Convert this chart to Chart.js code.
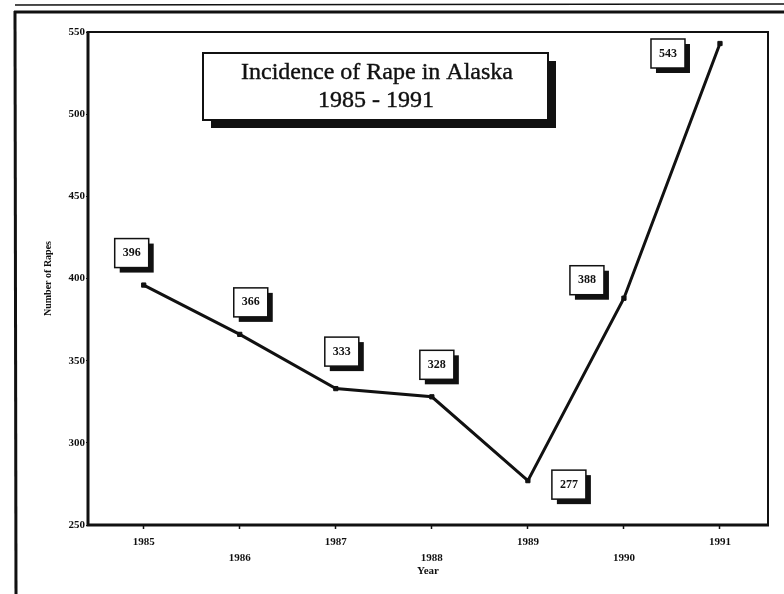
<!DOCTYPE html>
<html>
<head>
<meta charset="utf-8">
<script src="https://cdn.jsdelivr.net/npm/chart.js@4.4.1/dist/chart.umd.min.js"></script>
<style>
  html, body { margin: 0; padding: 0; background: #fff; }
  #wrap { width: 784px; height: 594px; }
</style>
</head>
<body>
<div id="wrap"><canvas id="rapes-chart"></canvas></div>
<script>
var years = [1985, 1986, 1987, 1988, 1989, 1990, 1991];
var rapes = [396, 366, 333, 328, 277, 388, 543];
var yTicks = [250, 300, 350, 400, 450, 500, 550];
var titleLines = ["Incidence of Rape in Alaska", "1985 - 1991"];

var serif = "'Liberation Serif', 'DejaVu Serif', serif";

// page frame, plot box and the title box
var framePlugin = {
  id: "frame",
  beforeDraw: function (chart) {
    var ctx = chart.ctx;
    ctx.save();
    ctx.fillStyle = "#fff";
    ctx.fillRect(0, 0, chart.width, chart.height);
    ctx.strokeStyle = "#111";
    ctx.lineWidth = 1.5;
    ctx.beginPath(); ctx.moveTo(15, 5); ctx.lineTo(784, 4); ctx.stroke();
    ctx.lineWidth = 3;
    ctx.beginPath(); ctx.moveTo(14, 12); ctx.lineTo(784, 12); ctx.stroke();
    ctx.beginPath(); ctx.moveTo(15, 11); ctx.lineTo(16, 594); ctx.stroke();
    ctx.restore();
  },
  afterDatasetsDraw: function (chart) {
    var ctx = chart.ctx, a = chart.chartArea;
    ctx.save();
    ctx.strokeStyle = "#111";
    ctx.lineWidth = 2;
    ctx.beginPath(); ctx.moveTo(a.left, a.top); ctx.lineTo(a.right, a.top); ctx.lineTo(a.right, a.bottom); ctx.stroke();
    ctx.lineWidth = 3;
    ctx.beginPath(); ctx.moveTo(a.left, a.top - 1); ctx.lineTo(a.left, a.bottom); ctx.lineTo(a.right + 1, a.bottom); ctx.stroke();

    // title box with shadow
    var bx = 203, by = 53, bw = 345, bh = 67;
    ctx.fillStyle = "#111";
    ctx.fillRect(bx + 8, by + 8, bw, bh);
    ctx.fillStyle = "#fff";
    ctx.fillRect(bx, by, bw, bh);
    ctx.lineWidth = 2;
    ctx.strokeRect(bx, by, bw, bh);
    ctx.fillStyle = "#111";
    ctx.strokeStyle = "#111";
    ctx.lineWidth = 0.4;
    ctx.textAlign = "center";
    ctx.textBaseline = "middle";
    ctx.font = "24px " + serif;
    ctx.fillText(titleLines[0], 377, 73);
    ctx.strokeText(titleLines[0], 377, 73);
    ctx.fillText(titleLines[1], 376, 101);
    ctx.strokeText(titleLines[1], 376, 101);
    ctx.restore();
  }
};

// value boxes beside each point
var boxPlugin = {
  id: "valueBoxes",
  afterDatasetsDraw: function (chart, args, opts) {
    var ctx = chart.ctx;
    var meta = chart.getDatasetMeta(0);
    ctx.save();
    meta.data.forEach(function (pt, i) {
      var off = opts.offsets[i];
      var w = 34, h = 29;
      var x = pt.x + off[0] - w / 2, y = pt.y + off[1] - h / 2;
      ctx.fillStyle = "#111";
      ctx.fillRect(x + 5, y + 5, w, h);
      ctx.fillStyle = "#fff";
      ctx.fillRect(x, y, w, h);
      ctx.strokeStyle = "#111";
      ctx.lineWidth = 1.5;
      ctx.strokeRect(x, y, w, h);
      ctx.fillStyle = "#111";
      ctx.font = "bold 12px " + serif;
      ctx.textAlign = "center";
      ctx.textBaseline = "middle";
      ctx.fillText(String(rapes[i]), x + w / 2, y + h / 2);
    });
    ctx.restore();
  }
};

new Chart("rapes-chart", {
  type: "line",
  data: {
    datasets: [{
      data: years.map(function (yr, i) { return { x: yr, y: rapes[i] }; }),
      borderColor: "#111",
      backgroundColor: "#111",
      borderWidth: 3,
      tension: 0,
      fill: false,
      pointStyle: "rect",
      pointRadius: 3,
      pointBorderWidth: 1
    }]
  },
  options: {
    responsive: true,
    maintainAspectRatio: false,
    animation: false,
    layout: { padding: { top: 32, right: 16, left: 0, bottom: 0 } },
    plugins: {
      legend: { display: false },
      tooltip: { enabled: false },
      valueBoxes: {
        offsets: [[-12, -32], [11, -32], [6, -37], [5, -32], [41, 4], [-37, -18], [-52, 10]]
      }
    },
    scales: {
      x: {
        type: "linear",
        min: 1984.42,
        max: 1991.5,
        afterFit: function (s) { s.height = 69; },
        afterBuildTicks: function (s) { s.ticks = years.map(function (v) { return { value: v }; }); },
        border: { display: false },
        grid: { drawOnChartArea: false, tickLength: 4, color: "#111", tickWidth: 1.5 },
        ticks: {
          color: "#111",
          padding: 5,
          maxRotation: 0,
          autoSkip: false,
          font: { family: serif, size: 11, weight: "bold", lineHeight: 1.45 },
          callback: function (v) { return (v % 2 === 1) ? String(v) : ["", String(v)]; }
        },
        title: {
          display: true,
          text: "Year",
          color: "#111",
          font: { family: serif, size: 11, weight: "bold" },
          padding: { top: 16, bottom: 16 }
        }
      },
      y: {
        min: 250,
        max: 550,
        afterFit: function (s) { s.width = 88; },
        afterBuildTicks: function (s) { s.ticks = yTicks.map(function (v) { return { value: v }; }); },
        border: { display: false },
        grid: { drawOnChartArea: false, tickLength: 2, color: "#111" },
        ticks: {
          color: "#111",
          padding: 1,
          font: { family: serif, size: 11, weight: "bold" }
        },
        title: {
          display: true,
          text: "Number of Rapes",
          color: "#111",
          font: { family: serif, size: 10, weight: "bold" },
          padding: { top: 42, bottom: 0 }
        }
      }
    }
  },
  plugins: [framePlugin, boxPlugin]
});
</script>
</body>
</html>
